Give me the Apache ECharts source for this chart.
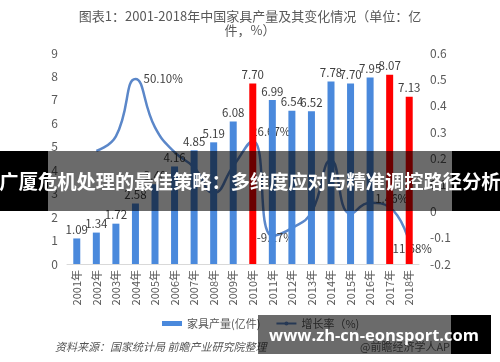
<!DOCTYPE html>
<html><head><meta charset="utf-8">
<script src="https://cdn.jsdelivr.net/npm/echarts@6/dist/echarts.min.js"></script>
<style>html,body{margin:0;padding:0;background:#fff}#c{width:500px;height:362px}</style>
</head><body><div id="c"></div>
<script>
const categories = ['2001年','2002年','2003年','2004年','2005年','2006年','2007年','2008年','2009年','2010年','2011年','2012年','2013年','2014年','2015年','2016年','2017年','2018年'];
const output = [1.09,1.34,1.72,2.58,3.40,4.16,4.85,5.19,6.08,7.70,6.99,6.54,6.52,7.78,7.70,7.95,8.07,7.13];
const growth = [null,0.229,0.284,0.501,0.318,0.224,0.166,0.070,0.171,0.2667,-0.0927,-0.064,-0.003,0.193,-0.010,0.032,0.0146,-0.1168];
const growthLabels = ['','','','50.10%','','','','','','26.67%','-9.27%','','','','','','1.46%','-11.68%'];
const redYears = ['2010年','2017年','2018年'];
const leftTicks = [0,9,1];
const rightTicks = [-0.2,0.6,0.1];

const F = 'Noto Sans CJK SC';
const chart = echarts.init(document.getElementById('c'), null, {renderer:'canvas'});

const labelPos = {
  3: {position:'right', distance:8, offset:[0,0]},
  9: {position:'top', distance:3, offset:[18,0]},
  10: {position:'inside', offset:[3,2]},
  16: {position:'top', distance:3, offset:[2,0]},
  17: {position:'inside', offset:[1,7]}
};

const barData = output.map((v,i)=>({
  value:v,
  itemStyle:{color: redYears.includes(categories[i]) ? '#FF0000' : '#4A89DC'}
}));
const lineData = growth.map((v,i)=>{
  const o = {value:v};
  if (growthLabels[i]) {
    o.label = Object.assign({show:true, formatter: growthLabels[i], color:'#404040', fontSize:11.5, fontFamily:F}, labelPos[i]);
  }
  return o;
});

chart.setOption({
  animation:false,
  textStyle:{fontFamily:F},
  legend:{
    left:157, top:313, itemWidth:20, itemHeight:5, itemGap:15,
    textStyle:{fontSize:11, color:'#595959', fontFamily:F},
    data:[{name:'家具产量(亿件)', icon:'rect'}, {name:'增长率（%)'}]
  },
  grid:{left:67, right:81, top:53, bottom:98, containLabel:false},
  xAxis:{
    type:'category', data:categories,
    axisLine:{lineStyle:{color:'#d9d9d9'}},
    axisTick:{show:false},
    axisLabel:{rotate:90, fontSize:11, color:'#595959', margin:6, interval:0, fontFamily:F}
  },
  yAxis:[
    {type:'value', min:leftTicks[0], max:leftTicks[1], interval:leftTicks[2],
     splitLine:{show:false}, axisLine:{show:false}, axisTick:{show:false},
     axisLabel:{fontSize:12, color:'#595959', margin:9, fontFamily:F}},
    {type:'value', min:rightTicks[0], max:rightTicks[1], interval:rightTicks[2],
     splitLine:{show:false}, axisLine:{show:false}, axisTick:{show:false},
     axisLabel:{fontSize:12, color:'#595959', margin:11, fontFamily:F,
       formatter:v=>{const r=Math.round(v*10)/10; return r===0?'0':String(r);}}}
  ],
  series:[
    {name:'家具产量(亿件)', type:'bar', data:barData, barWidth:7, yAxisIndex:0,
     itemStyle:{color:'#4A89DC'},
     label:{show:true, position:'top', distance:3, fontSize:11.5, color:'#404040', fontFamily:F,
       formatter:p=>p.value.toFixed(2)}, z:3},
    {name:'增长率（%)', type:'line', data:lineData, yAxisIndex:1, smooth:0.5,
     symbol:'circle', symbolSize:0.1, showAllSymbol:true, connectNulls:false,
     lineStyle:{color:'#5B87C9', width:2.5}, itemStyle:{color:'#5B87C9'}, z:2}
  ],
  graphic:[
    {type:'text', z:5, x:250, y:9, style:{text:'图表1：2001-2018年中国家具产量及其变化情况（单位：亿\n件，%）',
      fill:'#595959', font:'13px "Noto Sans CJK SC"', textAlign:'center', lineHeight:14}},
    {type:'rect', z:100, shape:{x:48,y:151,width:404,height:60}, style:{fill:'rgba(0,0,0,0.58)'}},
    {type:'rect', z:100, shape:{x:0,y:151,width:48,height:60}, style:{fill:'#000'}},
    {type:'rect', z:100, shape:{x:452,y:151,width:48,height:60}, style:{fill:'#000'}},
    {type:'text', z:101, x:250, y:182, style:{text:'广厦危机处理的最佳策略：多维度应对与精准调控路径分析',
      fill:'#fff', font:'bold 19.3px "Noto Sans CJK SC"', textAlign:'center', textVerticalAlign:'middle'}},
    {type:'text', z:5, x:55, y:347, style:{text:'资料来源：国家统计局 前瞻产业研究院整理',
      fill:'#555', font:'italic 11px "Noto Sans CJK SC"', textVerticalAlign:'middle'}},
    {type:'text', z:5, x:360, y:347, style:{text:'@前瞻经济学人APP',
      fill:'#666', font:'11px "Noto Sans CJK SC"', textVerticalAlign:'middle'}},
    {type:'rect', z:100, shape:{x:258,y:315,width:193,height:39}, style:{fill:'rgba(0,0,0,0.58)'}},
    {type:'rect', z:100, shape:{x:451,y:315,width:40,height:39}, style:{fill:'#000'}},
    {type:'text', z:101, x:374, y:336, style:{text:'www.zh-cn-eonsport.com',
      fill:'#fff', font:'bold 16.5px "Open Sans"', textAlign:'center', textVerticalAlign:'middle'}}
  ]
});
</script></body></html>
